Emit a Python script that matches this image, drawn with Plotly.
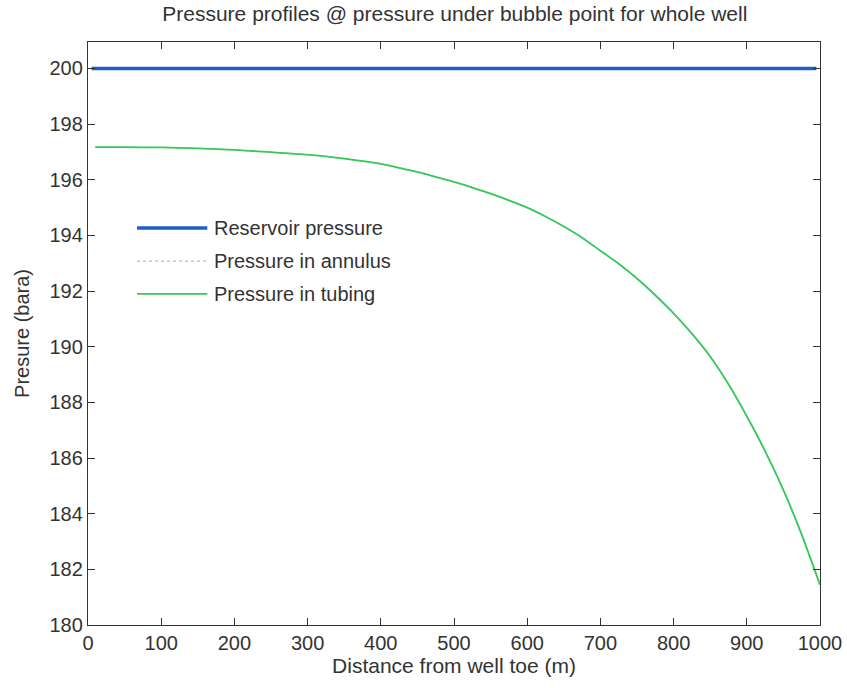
import plotly.graph_objects as go

distance_m = [10, 50, 100, 150, 200, 250, 300, 350, 400, 425, 450, 475, 500, 525, 550,
              575, 600, 625, 650, 675, 700, 725, 750, 775, 800, 825, 850, 875, 900,
              925, 950, 975, 1000]
tubing_bara = [197.17, 197.17, 197.16, 197.13, 197.07, 196.99, 196.90, 196.76, 196.57,
               196.43, 196.28, 196.10, 195.92, 195.72, 195.50, 195.26, 195.00, 194.68,
               194.32, 193.92, 193.45, 192.98, 192.45, 191.85, 191.20, 190.47, 189.65,
               188.65, 187.50, 186.25, 184.85, 183.25, 181.45]
reservoir_x = [5, 995]
reservoir_bara = [200.0, 200.0]
annulus_bara = tubing_bara

x_ticks = [0, 100, 200, 300, 400, 500, 600, 700, 800, 900, 1000]
y_ticks = [180, 182, 184, 186, 188, 190, 192, 194, 196, 198, 200]

legend_names = ["Reservoir pressure", "Pressure in annulus", "Pressure in tubing"]
colors = ["#1f5cc4", "#b8b8b8", "#35c95a"]
widths = [3.5, 1.2, 1.8]
dashes = ["solid", "dot", "solid"]

FONT = "Liberation Sans, Arial, sans-serif"
TXT = "#333333"

fig = go.Figure()
fig.add_trace(go.Scatter(x=reservoir_x, y=reservoir_bara, mode="lines",
                         name=legend_names[0],
                         line=dict(color=colors[0], width=widths[0])))
fig.add_trace(go.Scatter(x=distance_m, y=annulus_bara, mode="lines",
                         name=legend_names[1],
                         line=dict(color=colors[1], width=widths[1], dash=dashes[1],
                                   shape="spline", smoothing=0.6)))
fig.add_trace(go.Scatter(x=distance_m, y=tubing_bara, mode="lines",
                         name=legend_names[2],
                         line=dict(color=colors[2], width=widths[2],
                                   shape="spline", smoothing=0.6)))

# custom legend (longer line samples, as in the reference)
leg_x0, leg_x1, leg_tx = 0.067, 0.163, 0.170
leg_rows = [0.681, 0.624, 0.568]
for name, c, w, d, yy in zip(legend_names, colors, widths, dashes, leg_rows):
    fig.add_shape(type="line", xref="paper", yref="paper", x0=leg_x0, x1=leg_x1,
                  y0=yy, y1=yy, line=dict(color=c, width=w, dash=d))
    fig.add_annotation(xref="paper", yref="paper", x=leg_tx, y=yy, text=name,
                       showarrow=False, xanchor="left", yanchor="middle",
                       font=dict(family=FONT, size=20, color=TXT))

axis_common = dict(showline=True, linecolor="#333333", linewidth=1.3, mirror="ticks",
                   ticks="inside", ticklen=7, tickcolor="#333333", showgrid=False,
                   zeroline=False, automargin=False,
                   tickfont=dict(family=FONT, size=20, color=TXT))

fig.update_layout(
    width=847, height=688,
    margin=dict(l=88, r=27, t=42, b=63),
    paper_bgcolor="white", plot_bgcolor="white",
    showlegend=False,
    title=dict(text="Pressure profiles @ pressure under bubble point for whole well",
               x=0.537, xanchor="center", y=0.98, yanchor="middle",
               font=dict(family=FONT, size=21, color=TXT)),
    xaxis=dict(range=[0, 1000], tickvals=x_ticks,
               title=dict(text="Distance from well toe (m)", standoff=2,
                          font=dict(family=FONT, size=21, color=TXT)),
               **axis_common),
    yaxis=dict(range=[180, 200.95], tickvals=y_ticks,
               title=dict(text="Presure (bara)", standoff=14,
                          font=dict(family=FONT, size=20, color=TXT)),
               **axis_common),
)

fig.write_html("out.html")
